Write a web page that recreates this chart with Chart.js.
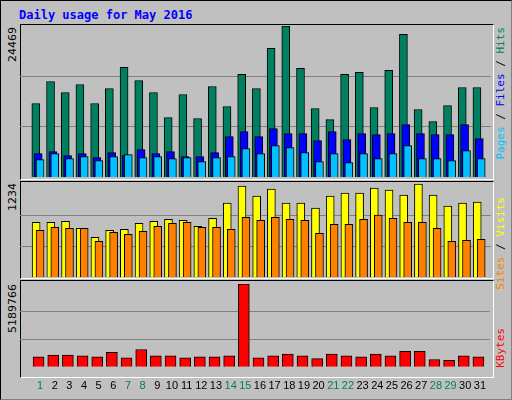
<!DOCTYPE html>
<html>
<head>
<meta charset="utf-8">
<script src="https://cdn.jsdelivr.net/npm/chart.js@4"></script>
<style>
body { margin: 0; background: #fff; }
#frame { position: absolute; left: 0; top: 0; width: 510px; height: 398px; background: #c0c0c0; border: 1px solid #000; border-right-color: #808080; border-bottom-color: #808080; }
#title { position: absolute; left: 18px; top: 7px; font: bold 12px "DejaVu Sans Mono", monospace; color: #0000ff; }
.panel { position: absolute; left: 19px; width: 472px; border-top: 1px solid #000; border-left: 1px solid #000; border-right: 1px solid #fff; border-bottom: 1px solid #fff; }
.ylab, .leg { position: absolute; writing-mode: vertical-rl; transform: rotate(180deg); white-space: nowrap; }
.ylab { left: 5px; font: 11px "DejaVu Sans", sans-serif; color: #000; }
.leg { left: 493px; font: 11px "DejaVu Sans Mono", monospace; }
canvas { position: absolute; }
</style>
</head>
<body>
<div id="frame">
  <div id="title">Daily usage for May 2016</div>
  <div class="panel" style="top:23px;height:154px"></div>
  <div class="panel" style="top:180px;height:96px"></div>
  <div class="panel" style="top:279px;height:96px"></div>
  <div class="ylab" style="top:26px">24469</div>
  <div class="ylab" style="top:182px">1234</div>
  <div class="ylab" style="top:283px">5189766</div>
  <div class="leg" style="top:26px"><span style="color:#00c0ff">Pages</span> / <span style="color:#0000ff">Files</span> / <span style="color:#008060">Hits</span></div>
  <div class="leg" style="top:196px"><span style="color:#ff8000">Sites</span> / <span style="color:#ffff00">Visits</span></div>
  <div class="leg" style="top:327px"><span style="color:#ff0000">KBytes</span></div>
</div>
<canvas id="c1" style="left:20px;top:24px;width:471px;height:153px"></canvas>
<canvas id="c2" style="left:20px;top:181px;width:471px;height:96px"></canvas>
<canvas id="c3" style="left:20px;top:280px;width:471px;height:118px"></canvas>
<script>
const days = [];
for (let i = 1; i <= 31; i++) days.push(i);
const weekend = [1, 7, 8, 14, 15, 21, 22, 28, 29];

const hits = [11909, 15482, 13695, 14994, 11909, 14345, 17755, 15644, 13695, 9635, 13370, 9473, 14669, 11422, 16618, 14345,
  20840, 24469, 17592, 11097, 9310, 16618, 16943, 11259, 17268, 23114, 10934, 8986, 11584, 14507, 14507];
const files = [3789, 4114, 3464, 3789, 3140, 3951, 3464, 4439, 3789, 4114, 3302, 3302, 3951, 6550, 7362, 6550,
  7849, 7037, 7037, 5900, 7362, 6063, 7037, 6875, 7037, 8498, 7037, 6875, 6875, 8498, 6225];
const pages = [2815, 3789, 2977, 3302, 2652, 3302, 3627, 3140, 3302, 2977, 3140, 2490, 3140, 3302, 4601, 3789,
  5088, 4763, 3951, 2490, 3789, 2328, 3789, 2977, 3789, 5088, 2977, 2977, 2652, 4276, 2977];
const visits = [726, 726, 740, 646, 526, 619, 633, 713, 740, 766, 753, 673, 780, 980, 1207, 1074,
  1167, 980, 980, 913, 1074, 1114, 1114, 1181, 1154, 1087, 1234, 1087, 940, 980, 993];
const sites = [619, 659, 646, 646, 472, 593, 566, 606, 673, 713, 726, 659, 659, 633, 793, 753,
  793, 766, 753, 579, 699, 699, 766, 820, 780, 726, 726, 646, 472, 486, 499];
const kbytes = [627000, 741000, 741000, 684000, 627000, 912000, 570000, 1084000, 684000, 684000, 570000, 627000, 627000, 684000, 5189766, 570000,
  684000, 798000, 684000, 513000, 798000, 684000, 627000, 798000, 684000, 970000, 970000, 456000, 399000, 684000, 627000];

function pts(arr, off) {
    return arr.map((v, i) => ({ x: days[i] + off, y: v }));
}

function bars(label, arr, off, color, w, order) {
    return {
        label: label, data: pts(arr, off), backgroundColor: color, borderColor: '#000',
        borderWidth: 1, barThickness: w, grouped: false, order: order
    };
}

function config(datasets, max, showDays, padTop) {
    return {
        type: 'bar',
        data: { datasets: datasets },
        options: {
            animation: false, responsive: false,
            layout: { padding: { top: padTop, left: 0, right: 0, bottom: 0 } },
            plugins: { legend: { display: false }, tooltip: { enabled: false } },
            scales: {
                x: {
                    type: 'linear', min: 0.15, max: 31.15, display: showDays,
                    grid: { display: false }, border: { display: false },
                    afterBuildTicks: s => { s.ticks = days.map(d => ({ value: d })); },
                    ticks: {
                        autoSkip: false, maxRotation: 0, padding: 5,
                        font: { family: 'Liberation Sans', size: 11 },
                        color: c => weekend.includes(c.tick.value) ? '#008060' : '#000'
                    }
                },
                y: {
                    min: 0, max: max, display: true,
                    afterBuildTicks: s => { s.ticks = [{ value: max / 3 }, { value: max * 2 / 3 }]; },
                    afterFit: s => { s.width = 0; },
                    ticks: { display: false },
                    grid: { color: '#808080', lineWidth: 1, drawTicks: false },
                    border: { display: false }
                }
            }
        }
    };
}

function make(id, w, h, cfg) {
    const c = document.getElementById(id);
    c.width = w; c.height = h;
    new Chart(c, cfg);
}

make('c1', 471, 153, config([
    bars('Hits', hits, -0.29, '#008060', 8, 3),
    bars('Files', files, -0.13, '#0000ff', 8, 2),
    bars('Pages', pages, 0, '#00c0ff', 8, 1)
], 24469, false, 2));

make('c2', 471, 96, config([
    bars('Visits', visits, -0.27, '#ffff00', 8, 2),
    bars('Sites', sites, 0, '#ff8000', 8, 1)
], 1234, false, 3));

make('c3', 471, 118, config([
    bars('KBytes', kbytes, -0.1, '#ff0000', 11, 1)
], 5189766, true, 4));
</script>
</body>
</html>
